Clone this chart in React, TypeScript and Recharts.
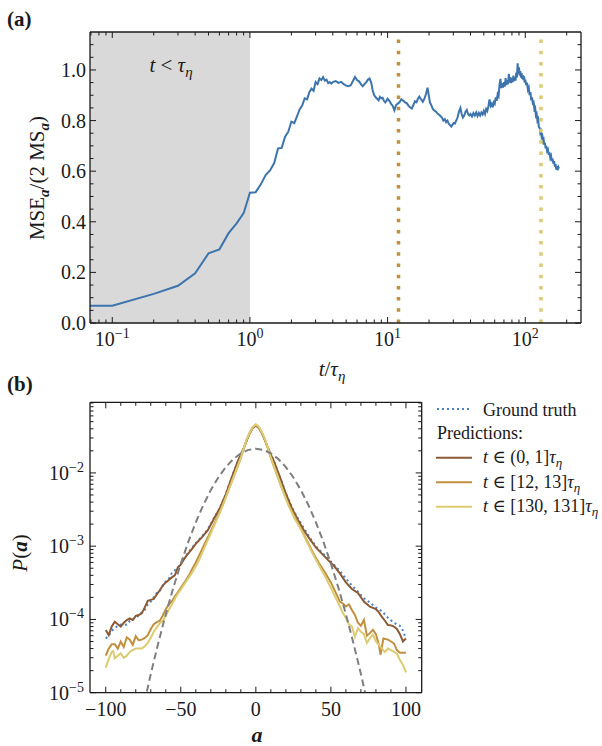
import React from "react";
import { LineChart, Line, XAxis, YAxis, ReferenceArea, ReferenceLine } from "recharts";

// ---------- panel (a): normalised MSE vs t / tau_eta ----------
const mseCurve: [number, number][] = [
  [0.05, 0.068], [0.1, 0.068], [0.2, 0.115], [0.3, 0.147], [0.4, 0.196], [0.5, 0.275], [0.6, 0.291],
  [0.7, 0.355], [0.8, 0.394], [0.9, 0.434], [1.0, 0.515], [1.1, 0.517], [1.2, 0.548], [1.3, 0.585],
  [1.4, 0.603], [1.5, 0.632], [1.6, 0.69], [1.7, 0.692], [1.8, 0.736], [1.9, 0.756], [2.0, 0.796],
  [2.1, 0.79], [2.2, 0.818], [2.3, 0.845], [2.4, 0.86], [2.5, 0.888], [2.6, 0.884], [2.7, 0.912],
  [2.8, 0.926], [2.9, 0.918], [3.0, 0.952], [3.1, 0.944], [3.2, 0.966], [3.3, 0.96], [3.4, 0.972],
  [3.5, 0.958], [3.6, 0.962], [3.7, 0.948], [3.8, 0.952], [3.9, 0.946], [4.0, 0.952], [4.2, 0.956],
  [4.4, 0.949], [4.6, 0.953], [4.8, 0.944], [5.0, 0.938], [5.2, 0.936], [5.4, 0.94], [5.6, 0.956],
  [5.8, 0.972], [6.0, 0.96], [6.2, 0.955], [6.4, 0.944], [6.6, 0.936], [6.8, 0.944], [7.0, 0.952],
  [7.2, 0.962], [7.4, 0.966], [7.6, 0.95], [7.8, 0.918], [8.0, 0.9], [8.2, 0.892], [8.4, 0.886],
  [8.6, 0.88], [8.8, 0.894], [9.0, 0.888], [9.2, 0.89], [9.4, 0.878], [9.6, 0.872], [9.8, 0.878],
  [10.0, 0.886], [10.3, 0.878], [10.6, 0.866], [10.9, 0.858], [11.2, 0.84], [11.5, 0.86], [11.8, 0.866],
  [12.2, 0.872], [12.6, 0.884], [13.0, 0.878], [13.4, 0.872], [13.8, 0.868], [14.2, 0.858], [14.6, 0.852],
  [15.0, 0.848], [15.4, 0.862], [15.8, 0.876], [16.2, 0.872], [16.6, 0.886], [17.0, 0.895], [17.5, 0.884],
  [18.0, 0.874], [18.5, 0.886], [19.0, 0.905], [19.5, 0.93], [19.9, 0.9], [20.3, 0.872], [20.8, 0.86],
  [21.3, 0.846], [21.8, 0.84], [22.4, 0.836], [23.0, 0.828], [23.6, 0.824], [24.2, 0.818], [24.8, 0.812],
  [25.4, 0.8], [26.0, 0.806], [26.6, 0.794], [27.2, 0.8], [27.8, 0.788], [28.4, 0.782], [29.0, 0.776],
  [29.6, 0.784], [30.2, 0.79], [30.8, 0.788], [31.5, 0.8], [32.2, 0.812], [33.0, 0.836], [33.8, 0.85],
  [34.5, 0.826], [35.2, 0.812], [36.0, 0.82], [36.8, 0.835], [37.6, 0.842], [38.4, 0.826], [39.2, 0.82],
  [40.0, 0.826], [41.0, 0.816], [42.0, 0.83], [43.0, 0.82], [44.0, 0.832], [45.0, 0.818], [46.0, 0.83],
  [47.0, 0.82], [48.0, 0.832], [49.0, 0.824], [50.0, 0.838], [51.0, 0.826], [52.0, 0.846], [53.0, 0.838],
  [54.0, 0.858], [55.0, 0.884], [56.0, 0.858], [57.0, 0.866], [58.0, 0.852], [59.0, 0.872], [60.0, 0.866],
  [61.0, 0.892], [62.0, 0.878], [63.0, 0.904], [64.0, 0.896], [65.0, 0.94], [66.0, 0.965], [67.0, 0.928],
  [68.0, 0.948], [69.0, 0.93], [70.0, 0.952], [71.0, 0.934], [72.0, 0.968], [73.0, 0.94], [74.0, 0.96],
  [75.0, 0.944], [76.0, 0.985], [77.0, 0.95], [78.0, 0.972], [79.0, 0.948], [80.0, 0.968], [81.0, 0.952],
  [82.0, 0.978], [83.0, 0.956], [84.0, 0.97], [85.0, 0.958], [86.0, 0.99], [87.0, 0.97], [88.0, 1.026],
  [89.0, 0.985], [90.0, 1.01], [91.0, 0.978], [92.0, 0.995], [93.0, 0.97], [94.0, 0.988], [95.0, 0.965],
  [96.0, 0.98], [97.0, 0.96], [98.0, 0.975], [99.0, 0.95], [100.0, 0.962], [101.5, 0.94], [103.0, 0.95],
  [104.5, 0.922], [106.0, 0.93], [107.5, 0.9], [109.0, 0.912], [110.5, 0.88], [112.0, 0.892], [113.5, 0.868],
  [115.0, 0.872], [116.5, 0.845], [118.0, 0.85], [119.5, 0.82], [121.0, 0.826], [122.5, 0.8], [124.0, 0.806],
  [125.5, 0.775], [127.0, 0.772], [128.5, 0.752], [130.0, 0.758], [131.5, 0.735], [133.0, 0.74], [134.5, 0.718],
  [136.0, 0.724], [137.5, 0.704], [139.0, 0.712], [140.5, 0.69], [142.0, 0.7], [144.0, 0.68], [146.0, 0.686],
  [148.0, 0.664], [150.0, 0.674], [152.0, 0.652], [154.0, 0.66], [156.0, 0.64], [158.0, 0.65], [160.0, 0.63],
  [162.0, 0.64], [164.0, 0.618], [166.0, 0.628], [168.0, 0.606], [170.0, 0.62], [172.0, 0.604], [174.0, 0.616],
  [176.0, 0.61],
];
const shadeEnd = 1; // t < tau_eta
const windowStarts = [12, 130];
const tDomain = [0.0689, 254];
const tMajor = [0.1, 1, 10, 100];
const tMinor = [0.07, 0.08, 0.09, 0.2, 0.3, 0.4, 0.5, 0.6, 0.7, 0.8, 0.9, 2, 3, 4, 5, 6, 7, 8, 9,
  20, 30, 40, 50, 60, 70, 80, 90, 200];
const mseMajor = [0, 0.2, 0.4, 0.6, 0.8, 1.0];
const mseMinor = [0.05, 0.1, 0.15, 0.25, 0.3, 0.35, 0.45, 0.5, 0.55, 0.65, 0.7, 0.75, 0.85, 0.9, 0.95, 1.05, 1.1];

// ---------- panel (b): acceleration PDFs ----------
const groundTruth: [number, number][] = [
  [-100, 5.5e-5], [-98, 6.0e-5], [-96, 7.0e-5], [-94, 7.6e-5], [-92, 8.2e-5], [-90, 8.5e-5], [-88, 8.4e-5],
  [-86, 8.5e-5], [-84, 9.5e-5], [-82, 1.0e-4], [-80, 1.08e-4], [-78, 1.12e-4], [-76, 1.25e-4], [-74, 1.35e-4],
  [-72, 1.6e-4], [-70, 1.75e-4], [-68, 2.0e-4], [-66, 2.3e-4], [-64, 2.45e-4], [-62, 2.9e-4], [-60, 3.3e-4],
  [-58, 3.6e-4], [-56, 4.3e-4], [-54, 4.7e-4], [-52, 5.1e-4], [-50, 5.8e-4], [-48, 6.6e-4], [-46, 7.7e-4],
  [-44, 8.7e-4], [-40, 1.1e-3], [-36, 1.35e-3], [-32, 1.7e-3], [-28, 2.4e-3], [-24, 3.3e-3], [-20, 5.2e-3],
  [-16, 8.8e-3], [-12, 0.0145], [-8, 0.022], [-6, 0.028], [-4, 0.035], [-2, 0.041], [0, 0.0445], [2, 0.041],
  [4, 0.035], [6, 0.028], [8, 0.022], [12, 0.0145], [16, 0.0088], [20, 5.3e-3], [24, 3.4e-3], [28, 2.4e-3],
  [32, 1.75e-3], [36, 1.3e-3], [40, 1.0e-3], [44, 8.2e-4], [48, 6.8e-4], [52, 5.6e-4], [56, 4.6e-4],
  [60, 3.6e-4], [64, 2.9e-4], [68, 2.4e-4], [72, 1.95e-4], [76, 1.7e-4], [80, 1.45e-4], [84, 1.3e-4],
  [88, 1.05e-4], [92, 9.0e-5], [96, 8.2e-5], [98, 7.0e-5], [100, 5.5e-5],
];
const predEarly: [number, number][] = [
  [-100, 7.2e-5], [-98, 6.1e-5], [-96, 8.0e-5], [-94, 9.3e-5], [-92, 8.6e-5], [-90, 8.0e-5], [-88, 9.0e-5],
  [-86, 9.8e-5], [-84, 1.03e-4], [-82, 9.8e-5], [-80, 1.12e-4], [-78, 1.15e-4], [-76, 1.21e-4], [-74, 1.46e-4],
  [-72, 1.8e-4], [-70, 1.85e-4], [-68, 1.9e-4], [-66, 2.2e-4], [-64, 2.5e-4], [-62, 2.9e-4], [-60, 3.2e-4],
  [-58, 3.45e-4], [-56, 3.75e-4], [-54, 4.0e-4], [-52, 5.1e-4], [-50, 5.6e-4], [-48, 6.6e-4], [-46, 7.5e-4],
  [-44, 8.4e-4], [-42, 9.5e-4], [-40, 1.08e-3], [-36, 1.32e-3], [-32, 1.65e-3], [-28, 2.35e-3], [-24, 3.3e-3],
  [-20, 5.1e-3], [-16, 8.7e-3], [-12, 0.0145], [-8, 0.022], [-6, 0.028], [-4, 0.035], [-2, 0.041], [0, 0.0445],
  [2, 0.041], [4, 0.035], [6, 0.028], [8, 0.022], [12, 0.0145], [16, 0.0088], [20, 5.2e-3], [24, 3.3e-3],
  [28, 2.3e-3], [32, 1.65e-3], [36, 1.25e-3], [40, 9.6e-4], [44, 7.9e-4], [48, 6.5e-4], [52, 5.4e-4],
  [56, 4.25e-4], [60, 3.2e-4], [64, 2.6e-4], [68, 2.3e-4], [72, 1.75e-4], [76, 1.49e-4], [80, 1.38e-4],
  [82, 1.25e-4], [84, 1.08e-4], [86, 9.6e-5], [88, 8.4e-5], [90, 8.3e-5], [92, 8.0e-5], [94, 7.4e-5],
  [96, 6.3e-5], [98, 5.0e-5], [100, 5.5e-5],
];
const predMid: [number, number][] = [
  [-100, 3.2e-5], [-98, 4.0e-5], [-96, 4.6e-5], [-94, 4.6e-5], [-92, 4.0e-5], [-90, 5.0e-5], [-88, 4.2e-5],
  [-86, 5.7e-5], [-84, 5.3e-5], [-82, 4.5e-5], [-80, 5.9e-5], [-78, 5.2e-5], [-76, 5.3e-5], [-74, 5.6e-5],
  [-72, 6.1e-5], [-70, 7.4e-5], [-68, 8.6e-5], [-66, 9.2e-5], [-64, 9.6e-5], [-62, 1.13e-4], [-60, 1.38e-4],
  [-58, 1.6e-4], [-56, 1.76e-4], [-54, 2.05e-4], [-52, 2.35e-4], [-50, 2.7e-4], [-48, 3.1e-4], [-46, 3.6e-4],
  [-44, 4.2e-4], [-42, 5.1e-4], [-40, 6.0e-4], [-38, 7.3e-4], [-34, 1.09e-3], [-30, 1.6e-3], [-26, 2.4e-3],
  [-22, 3.7e-3], [-18, 6.0e-3], [-14, 0.0098], [-10, 0.016], [-8, 0.0215], [-6, 0.0285], [-4, 0.0355],
  [-2, 0.042], [0, 0.0455], [2, 0.042], [4, 0.0355], [6, 0.0285], [8, 0.0215], [10, 0.016], [14, 0.0095],
  [18, 5.7e-3], [22, 3.6e-3], [26, 2.5e-3], [30, 1.75e-3], [34, 1.2e-3], [38, 8.2e-4], [42, 5.9e-4],
  [46, 4.4e-4], [50, 3.2e-4], [54, 2.15e-4], [56, 1.75e-4], [58, 1.65e-4], [60, 1.5e-4], [62, 1.6e-4],
  [64, 1.35e-4], [66, 1.15e-4], [68, 9.0e-5], [70, 8.2e-5], [72, 9.8e-5], [74, 6.0e-5], [76, 6.5e-5],
  [78, 7.2e-5], [80, 6.3e-5], [82, 4.5e-5], [83, 3.3e-5], [85, 5.5e-5], [88, 5.3e-5], [90, 5.0e-5],
  [92, 4.7e-5], [94, 3.8e-5], [96, 3.5e-5], [100, 3.5e-5],
];
const predLate: [number, number][] = [
  [-100, 2.2e-5], [-98, 2.9e-5], [-96, 3.6e-5], [-95, 3.7e-5], [-94, 2.95e-5], [-92, 3.2e-5], [-90, 3.45e-5],
  [-88, 3.0e-5], [-86, 3.2e-5], [-84, 3.6e-5], [-82, 3.8e-5], [-80, 4.0e-5], [-78, 4.0e-5], [-76, 4.0e-5],
  [-74, 4.3e-5], [-72, 4.8e-5], [-70, 5.6e-5], [-68, 6.8e-5], [-66, 7.8e-5], [-64, 8.9e-5], [-62, 9.6e-5],
  [-60, 1.12e-4], [-58, 1.35e-4], [-56, 1.58e-4], [-54, 1.9e-4], [-52, 2.25e-4], [-50, 2.55e-4], [-48, 2.95e-4],
  [-46, 3.4e-4], [-44, 3.9e-4], [-42, 4.5e-4], [-40, 5.3e-4], [-38, 6.3e-4], [-34, 9.8e-4], [-30, 1.5e-3],
  [-26, 2.3e-3], [-22, 3.6e-3], [-18, 5.9e-3], [-14, 0.0098], [-10, 0.0162], [-8, 0.022], [-6, 0.029],
  [-4, 0.036], [-2, 0.0425], [0, 0.046], [2, 0.0425], [4, 0.036], [6, 0.029], [8, 0.022], [10, 0.0162],
  [14, 0.0096], [18, 5.7e-3], [22, 3.5e-3], [26, 2.35e-3], [30, 1.7e-3], [34, 1.15e-3], [38, 7.8e-4],
  [42, 5.5e-4], [46, 3.9e-4], [50, 2.7e-4], [54, 1.82e-4], [56, 1.5e-4], [58, 1.22e-4], [60, 1.05e-4],
  [62, 8.6e-5], [64, 8.0e-5], [66, 5.8e-5], [68, 7.6e-5], [70, 6.8e-5], [72, 6.3e-5], [74, 4.8e-5],
  [76, 5.5e-5], [78, 6.2e-5], [80, 5.0e-5], [82, 4.5e-5], [84, 4.0e-5], [86, 3.6e-5], [88, 4.0e-5],
  [90, 3.8e-5], [92, 3.6e-5], [94, 3.4e-5], [96, 2.8e-5], [98, 2.4e-5], [100, 1.9e-5],
];
// Gaussian with the same variance
const gaussianRef: [number, number][] = [
  [-76, 5.3e-6], [-75, 6.3e-6], [-70, 1.8e-5], [-65, 4.77e-5], [-60, 1.18e-4], [-55, 2.7e-4], [-50, 5.77e-4],
  [-45, 1.147e-3], [-40, 2.119e-3], [-35, 3.645e-3], [-30, 5.83e-3], [-25, 8.67e-3], [-20, 0.01201],
  [-15, 0.01546], [-10, 0.01852], [-5, 0.02064], [0, 0.0214], [5, 0.02064], [10, 0.01852], [15, 0.01546],
  [20, 0.01201], [25, 8.67e-3], [30, 5.83e-3], [35, 3.645e-3], [40, 2.119e-3], [45, 1.147e-3], [50, 5.77e-4],
  [55, 2.7e-4], [60, 1.18e-4], [65, 4.77e-5], [70, 1.8e-5], [75, 6.3e-6], [76, 5.3e-6],
];
const aDomain = [-110.5, 110.5];
const aMajor = [-100, -50, 0, 50, 100];
const aMinor = [-90, -80, -70, -60, -40, -30, -20, -10, 10, 20, 30, 40, 60, 70, 80, 90];
const pDomain = [1e-5, 0.092];
const pMajor = [1e-5, 1e-4, 1e-3, 1e-2];
const pMinor = [2e-5, 3e-5, 4e-5, 5e-5, 6e-5, 7e-5, 8e-5, 9e-5, 2e-4, 3e-4, 4e-4, 5e-4, 6e-4, 7e-4, 8e-4, 9e-4,
  2e-3, 3e-3, 4e-3, 5e-3, 6e-3, 7e-3, 8e-3, 9e-3, 0.02, 0.03, 0.04, 0.05, 0.06, 0.07, 0.08, 0.09];

const FONT = "'Liberation Serif', 'DejaVu Serif', serif";
const INK = "#1a1a1a";
const BLUE = "#3d74ad";
const TRUTH_BLUE = "#4a80c6";
const BROWN = "#8c5a34";
const OCHRE = "#c1903f";
const SAND = "#dccb70";

type Side = "left" | "right" | "top" | "bottom";

const sameVal = (a: number, b: number) => Math.abs(a - b) <= Math.abs(b) * 1e-6 + 1e-12;

const powLabel = (v: number) => {
  const e = Math.round(Math.log10(v));
  return (
    <>
      <tspan>10</tspan>
      <tspan dy={-8} fontSize={14}>{e < 0 ? `\u2212${-e}` : `${e}`}</tspan>
    </>
  );
};

// inward ticks, major ones labelled outside the frame
const frameTick = (side: Side, majors: number[], fmt?: (v: number) => React.ReactNode, pad = 4) =>
  (props: any) => {
    const { x, y, payload } = props;
    const v = Number(payload.value);
    const isMajor = majors.some((m) => sameVal(v, m));
    const len = isMajor ? 6 : 3.5;
    const dx = side === "left" ? len : side === "right" ? -len : 0;
    const dy = side === "top" ? len : side === "bottom" ? -len : 0;
    let label = null;
    if (isMajor && fmt) {
      label =
        side === "left" ? (
          <text x={x - pad} y={y + 7} textAnchor="end" fontFamily={FONT} fontSize={20} fill={INK}>
            {fmt(v)}
          </text>
        ) : (
          <text x={x} y={y + 23} textAnchor="middle" fontFamily={FONT} fontSize={20} fill={INK}>
            {fmt(v)}
          </text>
        );
    }
    return (
      <g>
        <line x1={x} y1={y} x2={x + dx} y2={y + dy} stroke={INK} strokeWidth={1} />
        {label}
      </g>
    );
  };

const toPoints = (pairs: [number, number][]) => pairs.map(([x, y]) => ({ x, y }));

const axisLine = { stroke: INK, strokeWidth: 1.3 };

function PanelA() {
  const ticksX = [...tMajor, ...tMinor];
  const ticksY = [...mseMajor, ...mseMinor];
  return (
    <LineChart width={602} height={390} margin={{ top: 31, left: 89, right: 20, bottom: 66 }}>
      <XAxis xAxisId={0} type="number" dataKey="x" scale="log" domain={tDomain} allowDataOverflow
        ticks={ticksX} interval={0} height={1} tickSize={0} tickMargin={0} tickLine={false} axisLine={axisLine}
        tick={frameTick("bottom", tMajor, powLabel)} />
      <XAxis xAxisId="top" orientation="top" type="number" dataKey="x" scale="log" domain={tDomain} allowDataOverflow
        ticks={ticksX} interval={0} height={1} tickSize={0} tickMargin={0} tickLine={false} axisLine={axisLine}
        tick={frameTick("top", tMajor)} />
      <YAxis yAxisId={0} type="number" domain={[0, 1.15]} allowDataOverflow ticks={ticksY} interval={0}
        width={1} tickSize={0} tickMargin={0} tickLine={false} axisLine={axisLine}
        tick={frameTick("left", mseMajor, (v) => v.toFixed(1), 4)} />
      <YAxis yAxisId="right" orientation="right" type="number" domain={[0, 1.15]} allowDataOverflow ticks={ticksY}
        interval={0} width={1} tickSize={0} tickMargin={0} tickLine={false} axisLine={axisLine}
        tick={frameTick("right", mseMajor)} />
      <ReferenceArea xAxisId={0} yAxisId={0} x1={tDomain[0]} x2={shadeEnd} fill="#d9d9d9" fillOpacity={1}
        stroke="none" />
      <Line xAxisId={0} yAxisId={0} data={toPoints(mseCurve)} dataKey="y" type="linear" stroke={BLUE}
        strokeWidth={2} dot={false} isAnimationActive={false} />
      {windowStarts.map((t, i) => (
        <ReferenceLine key={t} xAxisId={0} yAxisId={0} x={t} stroke={i === 0 ? OCHRE : SAND} strokeWidth={3.5}
          strokeDasharray="3.5 7.7" />
      ))}
    </LineChart>
  );
}

function PanelB() {
  const ticksX = [...aMajor, ...aMinor];
  const ticksY = [...pMajor, ...pMinor];
  return (
    <LineChart width={602} height={356} margin={{ top: 11.3, left: 89, right: 179.3, bottom: 52.3 }}>
      <XAxis xAxisId={0} type="number" dataKey="x" domain={aDomain} allowDataOverflow ticks={ticksX} interval={0}
        height={1} tickSize={0} tickMargin={0} tickLine={false} axisLine={axisLine}
        tick={frameTick("bottom", aMajor, (v) => (v < 0 ? `\u2212${-v}` : `${v}`))} />
      <XAxis xAxisId="top" orientation="top" type="number" dataKey="x" domain={aDomain} allowDataOverflow
        ticks={ticksX} interval={0} height={1} tickSize={0} tickMargin={0} tickLine={false} axisLine={axisLine}
        tick={frameTick("top", aMajor)} />
      <YAxis yAxisId={0} type="number" scale="log" domain={pDomain} allowDataOverflow ticks={ticksY} interval={0}
        width={1} tickSize={0} tickMargin={0} tickLine={false} axisLine={axisLine}
        tick={frameTick("left", pMajor, powLabel, 6)} />
      <YAxis yAxisId="right" orientation="right" type="number" scale="log" domain={pDomain} allowDataOverflow
        ticks={ticksY} interval={0} width={1} tickSize={0} tickMargin={0} tickLine={false} axisLine={axisLine}
        tick={frameTick("right", pMajor)} />
      <Line xAxisId={0} yAxisId={0} data={toPoints(groundTruth)} dataKey="y" type="linear" stroke={TRUTH_BLUE}
        strokeWidth={2} strokeDasharray="2 3" dot={false} isAnimationActive={false} />
      <Line xAxisId={0} yAxisId={0} data={toPoints(predEarly)} dataKey="y" type="linear" stroke={BROWN}
        strokeWidth={2} dot={false} isAnimationActive={false} />
      <Line xAxisId={0} yAxisId={0} data={toPoints(predMid)} dataKey="y" type="linear" stroke={OCHRE}
        strokeWidth={2} dot={false} isAnimationActive={false} />
      <Line xAxisId={0} yAxisId={0} data={toPoints(predLate)} dataKey="y" type="linear" stroke={SAND}
        strokeWidth={2} dot={false} isAnimationActive={false} />
      <Line xAxisId={0} yAxisId={0} data={toPoints(gaussianRef)} dataKey="y" type="linear" stroke="#7f7f7f"
        strokeWidth={2} strokeDasharray="7 4" dot={false} isAnimationActive={false} />
    </LineChart>
  );
}

const legendRows = [
  { color: BROWN, lo: "(0, 1]" },
  { color: OCHRE, lo: "[12, 13]" },
  { color: SAND, lo: "[130, 131]" },
];

function Annotations() {
  const it = { fontStyle: "italic" as const };
  const bi = { fontStyle: "italic" as const, fontWeight: 700 };
  return (
    <svg width={602} height={746} style={{ position: "absolute", left: 0, top: 0, pointerEvents: "none" }}
      fontFamily={FONT} fill={INK}>
      <text x={7} y={26} fontSize={21} fontWeight={700}>(a)</text>
      <text x={7} y={391} fontSize={21} fontWeight={700}>(b)</text>

      <text x={171} y={72} fontSize={21} textAnchor="middle">
        <tspan {...it}>t</tspan> &lt; <tspan {...it}>τ</tspan>
        <tspan dy={5} fontSize={15} {...it}>η</tspan>
      </text>

      <text transform="translate(44,178) rotate(-90)" fontSize={21} textAnchor="middle">
        MSE<tspan dy={5} fontSize={15} {...bi}>a</tspan>
        <tspan dy={-5}>/(2 MS</tspan>
        <tspan dy={5} fontSize={15} {...bi}>a</tspan>
        <tspan dy={-5}>)</tspan>
      </text>
      <text x={332} y={376} fontSize={21} textAnchor="middle">
        <tspan {...it}>t</tspan>/<tspan {...it}>τ</tspan>
        <tspan dy={5} fontSize={15} {...it}>η</tspan>
      </text>

      <text transform="translate(27,553) rotate(-90)" fontSize={21} textAnchor="middle">
        <tspan {...it}>P</tspan>(<tspan {...bi}>a</tspan>)
      </text>
      <text x={257} y={742} fontSize={22} textAnchor="middle" {...bi}>a</text>

      <line x1={437} y1={409} x2={472} y2={409} stroke={TRUTH_BLUE} strokeWidth={2} strokeDasharray="2 3" />
      <text x={483} y={416} fontSize={18}>Ground truth</text>
      <text x={437} y={439} fontSize={18}>Predictions:</text>
      {legendRows.map((r, i) => (
        <g key={r.lo}>
          <line x1={436} y1={457.7 + i * 24.5} x2={472} y2={457.7 + i * 24.5} stroke={r.color} strokeWidth={2} />
          <text x={483} y={463 + i * 24.5} fontSize={18}>
            <tspan {...it}>t</tspan> ∈ {r.lo}<tspan {...it}>τ</tspan>
            <tspan dy={4} fontSize={13} {...it}>η</tspan>
          </text>
        </g>
      ))}
    </svg>
  );
}

export default function App() {
  return (
    <div style={{ position: "absolute", left: 0, top: 0, width: 602, height: 746, background: "#fff" }}>
      <div style={{ position: "absolute", left: 0, top: 0 }}>
        <PanelA />
      </div>
      <div style={{ position: "absolute", left: 0, top: 390 }}>
        <PanelB />
      </div>
      <Annotations />
    </div>
  );
}
